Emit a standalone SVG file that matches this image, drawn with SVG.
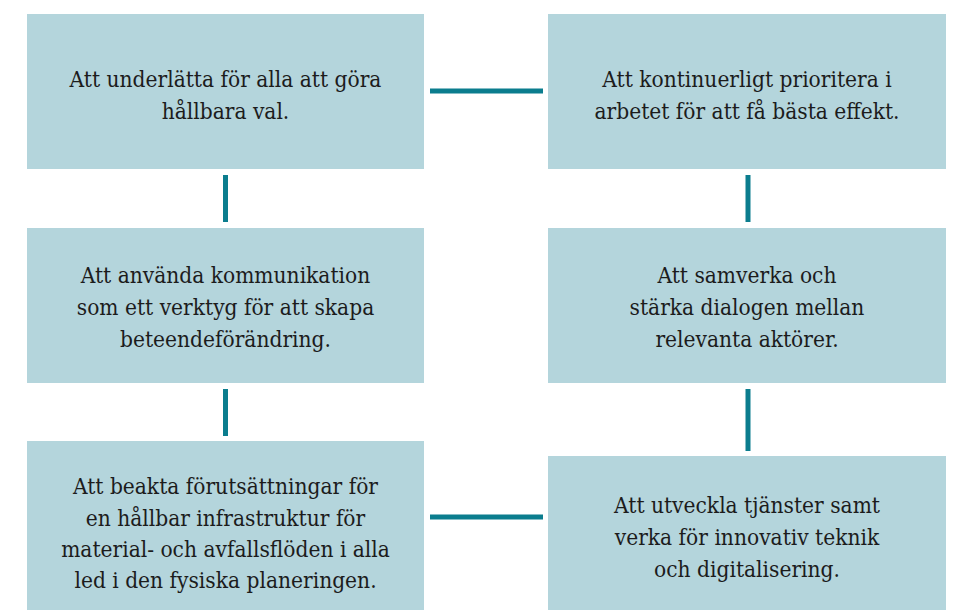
<svg xmlns="http://www.w3.org/2000/svg" width="954" height="610" viewBox="0 0 954 610">
<defs>
<style>
.box{fill:#b4d5dc;}
.t{font-size:22.5px;fill:#1c1c1c;text-anchor:middle;font-stretch:condensed;}
.c{stroke:#0b7d8e;stroke-width:5;fill:none;}
</style>
</defs>
<rect width="954" height="610" fill="#ffffff"/>
<g id="connectors">
<line class="c" x1="430" y1="91" x2="543" y2="91"/>
<line class="c" x1="225.5" y1="175" x2="225.5" y2="222"/>
<line class="c" x1="748" y1="175" x2="748" y2="222"/>
<line class="c" x1="225.5" y1="389" x2="225.5" y2="436"/>
<line class="c" x1="748" y1="389" x2="748" y2="451"/>
<line class="c" x1="430" y1="517" x2="543" y2="517"/>
</g>
<g font-family="'DejaVu Serif Condensed', 'DejaVu Serif', serif">
<g id="n1">
<rect class="box" x="27" y="14" width="397" height="155"/>
<text class="t"><tspan x="225.5" y="87">Att underlätta för alla att göra</tspan><tspan x="225.5" y="119">hållbara val.</tspan></text>
</g>
<g id="n2">
<rect class="box" x="548" y="14" width="398" height="155"/>
<text class="t"><tspan x="747" y="87">Att kontinuerligt prioritera i</tspan><tspan x="747" y="119">arbetet för att få bästa effekt.</tspan></text>
</g>
<g id="n3">
<rect class="box" x="27" y="228" width="397" height="155"/>
<text class="t"><tspan x="225.5" y="283">Att använda kommunikation</tspan><tspan x="225.5" y="315">som ett verktyg för att skapa</tspan><tspan x="225.5" y="347">beteendeförändring.</tspan></text>
</g>
<g id="n4">
<rect class="box" x="548" y="228" width="398" height="155"/>
<text class="t"><tspan x="747" y="283">Att samverka och</tspan><tspan x="747" y="315">stärka dialogen mellan</tspan><tspan x="747" y="347">relevanta aktörer.</tspan></text>
</g>
<g id="n5">
<rect class="box" x="27" y="441" width="397" height="169"/>
<text class="t"><tspan x="225.5" y="494">Att beakta förutsättningar för</tspan><tspan x="225.5" y="526">en hållbar infrastruktur för</tspan><tspan x="225.5" y="557">material- och avfallsflöden i alla</tspan><tspan x="225.5" y="588">led i den fysiska planeringen.</tspan></text>
</g>
<g id="n6">
<rect class="box" x="548" y="456" width="398" height="154"/>
<text class="t"><tspan x="747" y="513">Att utveckla tjänster samt</tspan><tspan x="747" y="545">verka för innovativ teknik</tspan><tspan x="747" y="577">och digitalisering.</tspan></text>
</g>
</g>
</svg>
